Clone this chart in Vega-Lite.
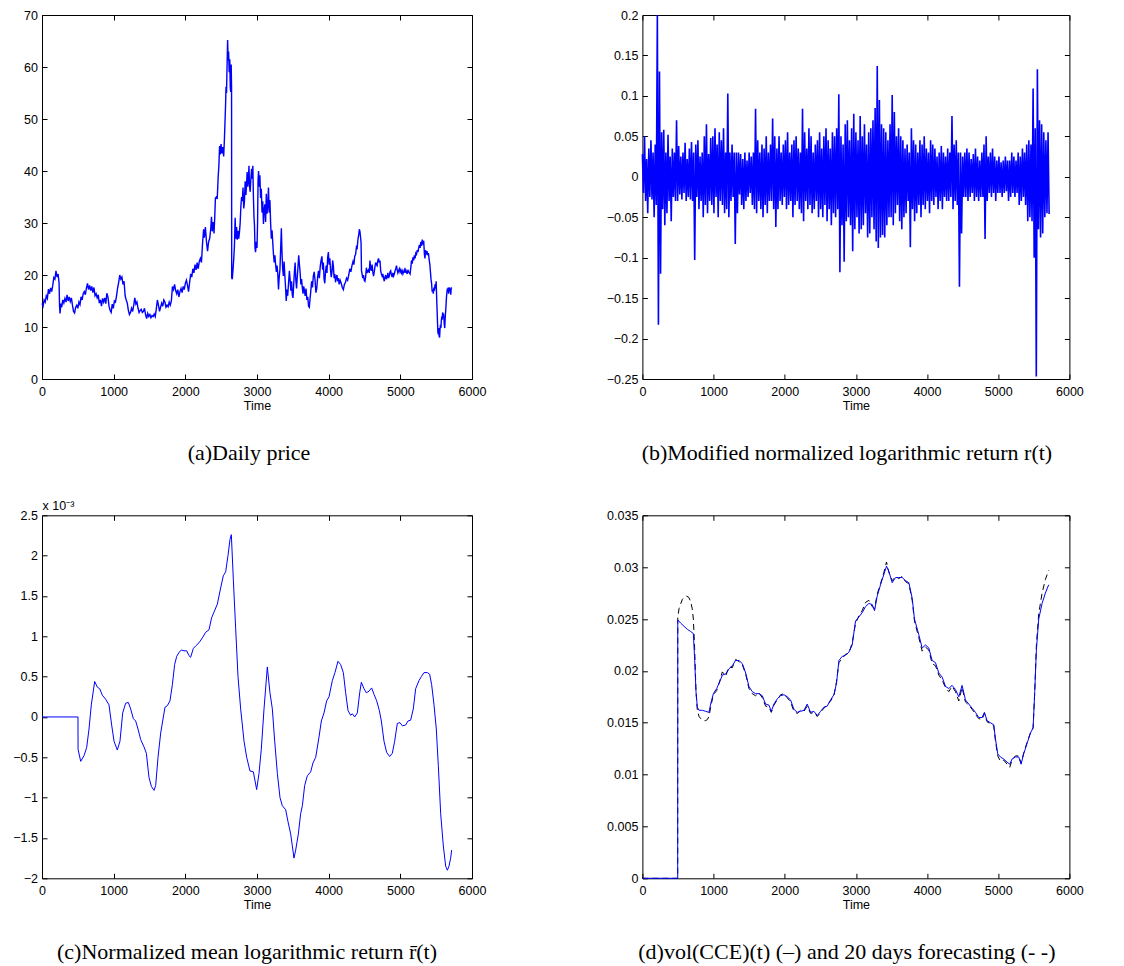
{
"$schema": "https://vega.github.io/schema/vega-lite/v6.json",
"background": "white",
"padding": {"left": 12, "top": 8, "right": 5, "bottom": 5},
"columns": 2,
"bounds": "flush",
"spacing": {"row": 136.3, "column": 170.4},
"config": {
  "view": {"stroke": "black", "strokeWidth": 1},
  "axis": {"grid": false, "domain": false, "tickSize": -5, "tickColor": "black", "labelFont": "Liberation Sans", "labelFontSize": 12.5, "labelColor": "black", "titleFont": "Liberation Sans", "titleFontSize": 12.5, "titleFontWeight": "normal", "titleColor": "black", "titlePadding": 2, "labelFlush": false, "labelOverlap": false},
  "axisX": {"labelPadding": 11},
  "axisY": {"labelPadding": 9.5},
  "title": {"font": "Liberation Serif", "fontSize": 22, "fontWeight": "normal", "color": "black", "orient": "bottom", "frame": "group", "offset": 31}
},
"datasets": {
"price": [
{"t":0,"v":14.5},{"t":15,"v":14.0},{"t":30,"v":15.2},{"t":45,"v":14.8},{"t":60,"v":16.0},{"t":75,"v":15.5},{"t":90,"v":17.3},{"t":105,"v":16.4},{"t":120,"v":17.5},{"t":135,"v":16.8},{"t":150,"v":18.0},{"t":165,"v":19.5},{"t":180,"v":19.2},{"t":195,"v":20.8},{"t":210,"v":19.6},{"t":225,"v":20.2},{"t":238,"v":18.5},{"t":245,"v":14.0},{"t":252,"v":12.6},{"t":262,"v":14.5},{"t":275,"v":13.8},{"t":290,"v":15.2},{"t":305,"v":14.6},{"t":320,"v":15.5},{"t":335,"v":14.8},{"t":350,"v":16.2},{"t":365,"v":15.0},{"t":380,"v":15.8},{"t":395,"v":14.9},{"t":410,"v":15.6},{"t":425,"v":14.2},{"t":440,"v":13.0},{"t":455,"v":12.7},{"t":470,"v":13.8},{"t":485,"v":14.2},{"t":500,"v":13.6},{"t":515,"v":14.8},{"t":530,"v":14.3},{"t":545,"v":15.8},{"t":560,"v":15.2},{"t":575,"v":16.4},{"t":590,"v":16.8},{"t":605,"v":16.2},{"t":620,"v":17.5},{"t":635,"v":18.4},{"t":650,"v":17.2},{"t":665,"v":18.0},{"t":680,"v":17.0},{"t":695,"v":17.8},{"t":710,"v":16.6},{"t":725,"v":17.6},{"t":740,"v":16.0},{"t":755,"v":16.4},{"t":770,"v":15.6},{"t":785,"v":16.2},{"t":800,"v":14.6},{"t":815,"v":15.2},{"t":830,"v":14.0},{"t":845,"v":15.5},{"t":860,"v":14.8},{"t":875,"v":15.6},{"t":890,"v":14.5},{"t":905,"v":16.5},{"t":920,"v":15.8},{"t":935,"v":14.0},{"t":950,"v":13.2},{"t":965,"v":12.8},{"t":980,"v":14.4},{"t":995,"v":13.6},{"t":1010,"v":15.0},{"t":1025,"v":14.8},{"t":1040,"v":16.0},{"t":1055,"v":17.5},{"t":1070,"v":18.6},{"t":1085,"v":20.0},{"t":1100,"v":19.2},{"t":1115,"v":19.6},{"t":1130,"v":18.2},{"t":1145,"v":18.8},{"t":1160,"v":16.0},{"t":1175,"v":15.2},{"t":1190,"v":14.6},{"t":1205,"v":13.2},{"t":1220,"v":12.4},{"t":1235,"v":12.8},{"t":1250,"v":13.6},{"t":1265,"v":13.0},{"t":1280,"v":14.2},{"t":1295,"v":15.6},{"t":1310,"v":14.4},{"t":1325,"v":14.8},{"t":1340,"v":13.6},{"t":1355,"v":12.8},{"t":1370,"v":13.2},{"t":1385,"v":13.4},{"t":1400,"v":12.8},{"t":1415,"v":13.0},{"t":1430,"v":13.6},{"t":1445,"v":12.4},{"t":1460,"v":11.6},{"t":1475,"v":12.6},{"t":1490,"v":12.0},{"t":1505,"v":12.4},{"t":1520,"v":11.8},{"t":1535,"v":12.2},{"t":1550,"v":12.0},{"t":1565,"v":12.5},{"t":1580,"v":12.0},{"t":1595,"v":13.5},{"t":1610,"v":15.2},{"t":1625,"v":14.2},{"t":1640,"v":13.0},{"t":1655,"v":13.8},{"t":1670,"v":14.6},{"t":1685,"v":14.0},{"t":1700,"v":15.2},{"t":1715,"v":14.8},{"t":1730,"v":13.8},{"t":1745,"v":14.2},{"t":1760,"v":13.9},{"t":1775,"v":14.8},{"t":1790,"v":14.2},{"t":1805,"v":15.0},{"t":1820,"v":17.8},{"t":1835,"v":17.2},{"t":1850,"v":18.2},{"t":1865,"v":17.0},{"t":1880,"v":16.4},{"t":1895,"v":17.2},{"t":1910,"v":15.8},{"t":1925,"v":16.8},{"t":1940,"v":17.4},{"t":1955,"v":16.6},{"t":1970,"v":17.8},{"t":1985,"v":17.2},{"t":2000,"v":18.4},{"t":2015,"v":19.0},{"t":2030,"v":18.0},{"t":2045,"v":16.8},{"t":2060,"v":18.6},{"t":2075,"v":20.2},{"t":2090,"v":19.6},{"t":2105,"v":21.2},{"t":2120,"v":20.4},{"t":2135,"v":22.0},{"t":2150,"v":21.0},{"t":2165,"v":22.4},{"t":2180,"v":21.2},{"t":2195,"v":22.6},{"t":2210,"v":23.2},{"t":2225,"v":22.4},{"t":2240,"v":26.0},{"t":2255,"v":28.8},{"t":2265,"v":27.2},{"t":2280,"v":29.2},{"t":2295,"v":26.4},{"t":2310,"v":24.6},{"t":2325,"v":26.4},{"t":2340,"v":27.0},{"t":2355,"v":29.0},{"t":2365,"v":31.2},{"t":2375,"v":28.4},{"t":2390,"v":30.2},{"t":2400,"v":28.0},{"t":2410,"v":31.0},{"t":2420,"v":34.8},{"t":2432,"v":35.0},{"t":2445,"v":34.6},{"t":2458,"v":38.8},{"t":2468,"v":41.0},{"t":2478,"v":44.8},{"t":2488,"v":43.2},{"t":2498,"v":45.2},{"t":2510,"v":43.4},{"t":2522,"v":44.6},{"t":2535,"v":42.8},{"t":2545,"v":46.0},{"t":2552,"v":48.8},{"t":2560,"v":52.0},{"t":2568,"v":56.2},{"t":2575,"v":55.0},{"t":2582,"v":60.0},{"t":2590,"v":65.2},{"t":2597,"v":61.2},{"t":2604,"v":63.0},{"t":2612,"v":59.0},{"t":2620,"v":61.5},{"t":2627,"v":56.0},{"t":2634,"v":55.2},{"t":2640,"v":60.5},{"t":2645,"v":56.0},{"t":2647,"v":19.5},{"t":2655,"v":19.2},{"t":2665,"v":21.0},{"t":2675,"v":23.0},{"t":2685,"v":25.5},{"t":2695,"v":31.0},{"t":2705,"v":27.0},{"t":2715,"v":29.2},{"t":2725,"v":26.8},{"t":2735,"v":28.5},{"t":2745,"v":27.0},{"t":2755,"v":28.2},{"t":2765,"v":30.0},{"t":2775,"v":33.2},{"t":2785,"v":35.0},{"t":2795,"v":34.2},{"t":2805,"v":36.8},{"t":2815,"v":32.8},{"t":2825,"v":34.2},{"t":2835,"v":38.0},{"t":2845,"v":35.4},{"t":2855,"v":37.6},{"t":2862,"v":39.8},{"t":2870,"v":37.0},{"t":2880,"v":38.4},{"t":2888,"v":41.0},{"t":2895,"v":37.2},{"t":2905,"v":36.0},{"t":2915,"v":38.6},{"t":2925,"v":40.4},{"t":2935,"v":38.5},{"t":2942,"v":41.0},{"t":2950,"v":35.0},{"t":2958,"v":31.2},{"t":2965,"v":29.5},{"t":2972,"v":25.2},{"t":2980,"v":24.4},{"t":2990,"v":26.4},{"t":3000,"v":25.2},{"t":3008,"v":30.0},{"t":3015,"v":38.4},{"t":3022,"v":40.0},{"t":3030,"v":37.0},{"t":3040,"v":39.2},{"t":3050,"v":34.8},{"t":3060,"v":36.6},{"t":3070,"v":32.0},{"t":3080,"v":34.2},{"t":3090,"v":29.8},{"t":3100,"v":32.6},{"t":3110,"v":33.6},{"t":3120,"v":30.2},{"t":3130,"v":35.6},{"t":3140,"v":31.8},{"t":3150,"v":33.2},{"t":3160,"v":36.8},{"t":3170,"v":32.0},{"t":3180,"v":34.4},{"t":3190,"v":30.0},{"t":3200,"v":27.0},{"t":3210,"v":28.6},{"t":3220,"v":26.2},{"t":3230,"v":24.0},{"t":3240,"v":22.4},{"t":3250,"v":23.8},{"t":3260,"v":22.0},{"t":3270,"v":20.6},{"t":3280,"v":21.8},{"t":3290,"v":20.2},{"t":3300,"v":17.2},{"t":3310,"v":19.6},{"t":3320,"v":21.0},{"t":3330,"v":25.0},{"t":3340,"v":29.0},{"t":3348,"v":24.6},{"t":3358,"v":21.2},{"t":3368,"v":19.8},{"t":3378,"v":22.6},{"t":3388,"v":20.0},{"t":3398,"v":17.8},{"t":3408,"v":15.0},{"t":3418,"v":17.2},{"t":3428,"v":16.0},{"t":3440,"v":18.4},{"t":3452,"v":20.8},{"t":3462,"v":19.2},{"t":3472,"v":17.0},{"t":3482,"v":18.8},{"t":3492,"v":16.2},{"t":3502,"v":15.6},{"t":3512,"v":18.2},{"t":3522,"v":20.6},{"t":3532,"v":22.4},{"t":3542,"v":19.0},{"t":3552,"v":17.4},{"t":3562,"v":19.6},{"t":3572,"v":21.6},{"t":3582,"v":23.8},{"t":3592,"v":22.0},{"t":3602,"v":20.4},{"t":3612,"v":18.2},{"t":3622,"v":19.2},{"t":3632,"v":17.6},{"t":3642,"v":16.4},{"t":3652,"v":17.8},{"t":3662,"v":17.0},{"t":3672,"v":16.0},{"t":3684,"v":17.4},{"t":3696,"v":15.2},{"t":3708,"v":15.8},{"t":3720,"v":14.0},{"t":3730,"v":13.8},{"t":3740,"v":15.4},{"t":3750,"v":16.8},{"t":3762,"v":18.8},{"t":3774,"v":17.6},{"t":3786,"v":19.8},{"t":3798,"v":20.6},{"t":3810,"v":19.0},{"t":3822,"v":16.6},{"t":3834,"v":17.4},{"t":3846,"v":19.6},{"t":3858,"v":20.8},{"t":3870,"v":19.4},{"t":3882,"v":21.6},{"t":3894,"v":22.8},{"t":3906,"v":23.6},{"t":3916,"v":21.0},{"t":3926,"v":22.4},{"t":3936,"v":19.2},{"t":3946,"v":18.4},{"t":3956,"v":20.6},{"t":3966,"v":21.8},{"t":3976,"v":20.4},{"t":3986,"v":23.4},{"t":3996,"v":24.4},{"t":4006,"v":22.0},{"t":4016,"v":23.2},{"t":4026,"v":21.0},{"t":4036,"v":19.6},{"t":4046,"v":20.6},{"t":4056,"v":22.8},{"t":4066,"v":21.6},{"t":4076,"v":19.4},{"t":4086,"v":20.2},{"t":4096,"v":18.6},{"t":4106,"v":19.6},{"t":4116,"v":20.0},{"t":4126,"v":18.8},{"t":4136,"v":19.4},{"t":4146,"v":18.2},{"t":4160,"v":19.0},{"t":4175,"v":18.4},{"t":4190,"v":17.6},{"t":4205,"v":17.2},{"t":4220,"v":18.2},{"t":4235,"v":18.6},{"t":4250,"v":19.4},{"t":4265,"v":19.0},{"t":4280,"v":20.0},{"t":4295,"v":21.2},{"t":4310,"v":20.6},{"t":4325,"v":21.8},{"t":4340,"v":22.6},{"t":4352,"v":22.0},{"t":4364,"v":23.6},{"t":4376,"v":24.0},{"t":4388,"v":25.4},{"t":4398,"v":25.2},{"t":4408,"v":26.8},{"t":4418,"v":27.6},{"t":4428,"v":28.8},{"t":4436,"v":28.4},{"t":4444,"v":27.4},{"t":4452,"v":26.2},{"t":4458,"v":20.8},{"t":4466,"v":20.2},{"t":4476,"v":19.4},{"t":4486,"v":20.0},{"t":4496,"v":19.0},{"t":4506,"v":18.8},{"t":4516,"v":19.6},{"t":4526,"v":21.4},{"t":4536,"v":20.4},{"t":4546,"v":20.8},{"t":4556,"v":21.0},{"t":4566,"v":20.4},{"t":4576,"v":22.8},{"t":4586,"v":21.2},{"t":4596,"v":20.8},{"t":4606,"v":22.0},{"t":4616,"v":20.6},{"t":4626,"v":19.8},{"t":4636,"v":20.6},{"t":4646,"v":21.6},{"t":4656,"v":22.4},{"t":4666,"v":22.0},{"t":4676,"v":21.8},{"t":4686,"v":22.8},{"t":4696,"v":23.2},{"t":4706,"v":22.4},{"t":4716,"v":22.8},{"t":4726,"v":20.8},{"t":4736,"v":20.2},{"t":4746,"v":19.8},{"t":4756,"v":20.2},{"t":4766,"v":19.4},{"t":4776,"v":18.8},{"t":4786,"v":19.6},{"t":4796,"v":20.0},{"t":4806,"v":19.2},{"t":4816,"v":19.6},{"t":4826,"v":20.4},{"t":4836,"v":19.4},{"t":4846,"v":19.8},{"t":4856,"v":20.6},{"t":4866,"v":20.8},{"t":4876,"v":20.0},{"t":4886,"v":19.6},{"t":4896,"v":20.4},{"t":4906,"v":19.8},{"t":4916,"v":20.2},{"t":4926,"v":20.8},{"t":4936,"v":21.2},{"t":4946,"v":21.8},{"t":4956,"v":21.0},{"t":4966,"v":20.4},{"t":4976,"v":20.8},{"t":4986,"v":21.2},{"t":4996,"v":20.6},{"t":5006,"v":21.0},{"t":5016,"v":20.4},{"t":5026,"v":20.8},{"t":5036,"v":20.2},{"t":5046,"v":20.6},{"t":5056,"v":21.0},{"t":5066,"v":20.4},{"t":5076,"v":21.0},{"t":5086,"v":20.6},{"t":5096,"v":20.2},{"t":5106,"v":21.0},{"t":5116,"v":20.6},{"t":5126,"v":20.4},{"t":5136,"v":20.2},{"t":5146,"v":21.4},{"t":5156,"v":22.8},{"t":5166,"v":22.2},{"t":5176,"v":23.4},{"t":5186,"v":22.8},{"t":5196,"v":23.8},{"t":5206,"v":23.2},{"t":5216,"v":24.2},{"t":5226,"v":24.0},{"t":5236,"v":24.8},{"t":5246,"v":24.4},{"t":5256,"v":25.2},{"t":5266,"v":25.8},{"t":5276,"v":25.2},{"t":5286,"v":26.4},{"t":5296,"v":25.6},{"t":5306,"v":26.8},{"t":5316,"v":26.2},{"t":5326,"v":26.6},{"t":5336,"v":24.0},{"t":5344,"v":23.2},{"t":5352,"v":24.8},{"t":5362,"v":24.2},{"t":5372,"v":24.6},{"t":5382,"v":23.8},{"t":5392,"v":24.2},{"t":5402,"v":23.0},{"t":5412,"v":22.0},{"t":5420,"v":20.6},{"t":5428,"v":19.2},{"t":5436,"v":18.4},{"t":5444,"v":16.8},{"t":5452,"v":17.2},{"t":5460,"v":16.4},{"t":5468,"v":17.6},{"t":5476,"v":17.0},{"t":5484,"v":18.2},{"t":5492,"v":17.4},{"t":5500,"v":18.8},{"t":5506,"v":16.0},{"t":5512,"v":13.6},{"t":5518,"v":11.2},{"t":5524,"v":9.0},{"t":5530,"v":8.6},{"t":5536,"v":9.8},{"t":5542,"v":8.2},{"t":5548,"v":8.0},{"t":5554,"v":9.6},{"t":5560,"v":10.4},{"t":5566,"v":9.8},{"t":5572,"v":11.2},{"t":5578,"v":12.0},{"t":5584,"v":11.4},{"t":5590,"v":12.8},{"t":5596,"v":12.2},{"t":5602,"v":12.6},{"t":5608,"v":11.6},{"t":5614,"v":10.4},{"t":5620,"v":9.8},{"t":5626,"v":11.8},{"t":5632,"v":13.0},{"t":5638,"v":14.2},{"t":5644,"v":15.8},{"t":5650,"v":16.6},{"t":5656,"v":17.4},{"t":5662,"v":16.8},{"t":5668,"v":17.6},{"t":5674,"v":16.4},{"t":5680,"v":17.2},{"t":5686,"v":17.6},{"t":5692,"v":16.8},{"t":5698,"v":17.4},{"t":5704,"v":16.2},{"t":5710,"v":17.6},{"t":5716,"v":17.4}
],
"ret": [
{"t":0,"v":0.028},{"t":15,"v":-0.02},{"t":30,"v":0.05},{"t":45,"v":-0.03},{"t":60,"v":0.022},{"t":75,"v":-0.045},{"t":90,"v":0.035},{"t":105,"v":-0.025},{"t":120,"v":0.045},{"t":135,"v":-0.028},{"t":150,"v":0.03},{"t":165,"v":-0.05},{"t":180,"v":0.04},{"t":195,"v":-0.035},{"t":210,"v":0.2},{"t":225,"v":-0.183},{"t":240,"v":0.13},{"t":255,"v":-0.12},{"t":270,"v":0.055},{"t":285,"v":-0.04},{"t":300,"v":0.058},{"t":315,"v":-0.06},{"t":330,"v":0.03},{"t":345,"v":-0.045},{"t":360,"v":0.052},{"t":375,"v":-0.03},{"t":390,"v":0.025},{"t":405,"v":-0.055},{"t":420,"v":0.035},{"t":435,"v":-0.025},{"t":450,"v":0.03},{"t":465,"v":-0.03},{"t":480,"v":0.07},{"t":495,"v":-0.03},{"t":510,"v":0.038},{"t":525,"v":-0.022},{"t":540,"v":0.025},{"t":555,"v":-0.028},{"t":570,"v":0.03},{"t":585,"v":-0.02},{"t":600,"v":0.042},{"t":615,"v":-0.03},{"t":630,"v":0.022},{"t":645,"v":-0.025},{"t":660,"v":0.035},{"t":675,"v":-0.028},{"t":690,"v":0.043},{"t":705,"v":-0.03},{"t":720,"v":0.03},{"t":735,"v":-0.103},{"t":750,"v":0.04},{"t":765,"v":-0.025},{"t":780,"v":0.045},{"t":795,"v":-0.04},{"t":810,"v":0.025},{"t":825,"v":-0.03},{"t":840,"v":0.03},{"t":855,"v":-0.05},{"t":870,"v":0.05},{"t":885,"v":-0.035},{"t":900,"v":0.065},{"t":915,"v":-0.045},{"t":930,"v":0.028},{"t":945,"v":-0.03},{"t":960,"v":0.048},{"t":975,"v":-0.035},{"t":990,"v":0.05},{"t":1005,"v":-0.045},{"t":1020,"v":0.06},{"t":1035,"v":-0.025},{"t":1050,"v":0.04},{"t":1065,"v":-0.05},{"t":1080,"v":0.055},{"t":1095,"v":-0.03},{"t":1110,"v":0.045},{"t":1125,"v":-0.035},{"t":1140,"v":0.06},{"t":1155,"v":-0.045},{"t":1170,"v":0.03},{"t":1185,"v":-0.04},{"t":1200,"v":0.103},{"t":1215,"v":-0.05},{"t":1230,"v":0.03},{"t":1245,"v":-0.03},{"t":1260,"v":0.04},{"t":1275,"v":-0.025},{"t":1290,"v":0.03},{"t":1305,"v":-0.083},{"t":1320,"v":0.03},{"t":1335,"v":-0.045},{"t":1350,"v":0.03},{"t":1365,"v":-0.022},{"t":1380,"v":0.028},{"t":1395,"v":-0.035},{"t":1410,"v":0.022},{"t":1425,"v":-0.04},{"t":1440,"v":0.03},{"t":1455,"v":-0.03},{"t":1470,"v":0.02},{"t":1485,"v":-0.025},{"t":1500,"v":0.03},{"t":1515,"v":-0.02},{"t":1530,"v":0.025},{"t":1545,"v":-0.035},{"t":1560,"v":0.03},{"t":1575,"v":-0.04},{"t":1590,"v":0.084},{"t":1605,"v":-0.045},{"t":1620,"v":0.045},{"t":1635,"v":-0.03},{"t":1650,"v":0.03},{"t":1665,"v":-0.04},{"t":1680,"v":0.04},{"t":1695,"v":-0.05},{"t":1710,"v":0.035},{"t":1725,"v":-0.035},{"t":1740,"v":0.05},{"t":1755,"v":-0.045},{"t":1770,"v":0.03},{"t":1785,"v":-0.03},{"t":1800,"v":0.04},{"t":1815,"v":-0.03},{"t":1830,"v":0.072},{"t":1845,"v":-0.04},{"t":1860,"v":0.05},{"t":1875,"v":-0.062},{"t":1890,"v":0.035},{"t":1905,"v":-0.04},{"t":1920,"v":0.05},{"t":1935,"v":-0.03},{"t":1950,"v":0.03},{"t":1965,"v":-0.035},{"t":1980,"v":0.04},{"t":1995,"v":-0.025},{"t":2010,"v":0.045},{"t":2025,"v":-0.04},{"t":2040,"v":0.055},{"t":2055,"v":-0.035},{"t":2070,"v":0.03},{"t":2085,"v":-0.03},{"t":2100,"v":0.04},{"t":2115,"v":-0.05},{"t":2130,"v":0.045},{"t":2145,"v":-0.035},{"t":2160,"v":0.05},{"t":2175,"v":-0.03},{"t":2190,"v":0.035},{"t":2205,"v":-0.04},{"t":2220,"v":0.03},{"t":2235,"v":-0.045},{"t":2250,"v":0.084},{"t":2265,"v":-0.055},{"t":2280,"v":0.055},{"t":2295,"v":-0.03},{"t":2310,"v":0.035},{"t":2325,"v":-0.04},{"t":2340,"v":0.06},{"t":2355,"v":-0.035},{"t":2370,"v":0.05},{"t":2385,"v":-0.045},{"t":2400,"v":0.03},{"t":2415,"v":-0.04},{"t":2430,"v":0.04},{"t":2445,"v":-0.03},{"t":2460,"v":0.045},{"t":2475,"v":-0.05},{"t":2490,"v":0.055},{"t":2505,"v":-0.04},{"t":2520,"v":0.035},{"t":2535,"v":-0.05},{"t":2550,"v":0.05},{"t":2565,"v":-0.035},{"t":2580,"v":0.06},{"t":2595,"v":-0.055},{"t":2610,"v":0.045},{"t":2625,"v":-0.04},{"t":2640,"v":0.035},{"t":2655,"v":-0.06},{"t":2670,"v":0.055},{"t":2685,"v":-0.045},{"t":2700,"v":0.05},{"t":2715,"v":-0.05},{"t":2730,"v":0.06},{"t":2745,"v":-0.04},{"t":2760,"v":0.102},{"t":2775,"v":-0.118},{"t":2790,"v":0.05},{"t":2805,"v":-0.06},{"t":2820,"v":0.04},{"t":2835,"v":-0.105},{"t":2850,"v":0.065},{"t":2865,"v":-0.055},{"t":2880,"v":0.07},{"t":2895,"v":-0.05},{"t":2910,"v":0.045},{"t":2925,"v":-0.06},{"t":2940,"v":0.06},{"t":2955,"v":-0.092},{"t":2970,"v":0.078},{"t":2985,"v":-0.065},{"t":3000,"v":0.055},{"t":3015,"v":-0.05},{"t":3030,"v":0.045},{"t":3045,"v":-0.07},{"t":3060,"v":0.075},{"t":3075,"v":-0.065},{"t":3090,"v":0.05},{"t":3105,"v":-0.06},{"t":3120,"v":0.065},{"t":3135,"v":-0.045},{"t":3150,"v":0.04},{"t":3165,"v":-0.075},{"t":3180,"v":0.055},{"t":3195,"v":-0.07},{"t":3210,"v":0.06},{"t":3225,"v":-0.05},{"t":3240,"v":0.07},{"t":3255,"v":-0.065},{"t":3270,"v":0.085},{"t":3285,"v":-0.08},{"t":3300,"v":0.137},{"t":3315,"v":-0.088},{"t":3330,"v":0.095},{"t":3345,"v":-0.075},{"t":3360,"v":0.065},{"t":3375,"v":-0.072},{"t":3390,"v":0.06},{"t":3405,"v":-0.075},{"t":3420,"v":0.055},{"t":3435,"v":-0.06},{"t":3450,"v":0.045},{"t":3465,"v":-0.05},{"t":3480,"v":0.065},{"t":3495,"v":-0.05},{"t":3510,"v":0.101},{"t":3525,"v":-0.06},{"t":3540,"v":0.08},{"t":3555,"v":-0.045},{"t":3570,"v":0.05},{"t":3585,"v":-0.035},{"t":3600,"v":0.06},{"t":3615,"v":-0.055},{"t":3630,"v":0.05},{"t":3645,"v":-0.065},{"t":3660,"v":0.045},{"t":3675,"v":-0.05},{"t":3690,"v":0.035},{"t":3705,"v":-0.045},{"t":3720,"v":0.04},{"t":3735,"v":-0.03},{"t":3750,"v":0.03},{"t":3765,"v":-0.087},{"t":3780,"v":0.06},{"t":3795,"v":-0.04},{"t":3810,"v":0.045},{"t":3825,"v":-0.055},{"t":3840,"v":0.04},{"t":3855,"v":-0.045},{"t":3870,"v":0.03},{"t":3885,"v":-0.035},{"t":3900,"v":0.045},{"t":3915,"v":-0.05},{"t":3930,"v":0.04},{"t":3945,"v":-0.035},{"t":3960,"v":0.05},{"t":3975,"v":-0.04},{"t":3990,"v":0.035},{"t":4005,"v":-0.03},{"t":4020,"v":0.03},{"t":4035,"v":-0.045},{"t":4050,"v":0.045},{"t":4065,"v":-0.03},{"t":4080,"v":0.04},{"t":4095,"v":-0.035},{"t":4110,"v":0.035},{"t":4125,"v":-0.025},{"t":4140,"v":0.025},{"t":4155,"v":-0.04},{"t":4170,"v":0.03},{"t":4185,"v":-0.03},{"t":4200,"v":0.038},{"t":4215,"v":-0.04},{"t":4230,"v":0.03},{"t":4245,"v":-0.025},{"t":4260,"v":0.025},{"t":4275,"v":-0.03},{"t":4290,"v":0.035},{"t":4305,"v":-0.03},{"t":4320,"v":0.03},{"t":4335,"v":-0.025},{"t":4350,"v":0.075},{"t":4365,"v":-0.04},{"t":4380,"v":0.04},{"t":4395,"v":-0.03},{"t":4410,"v":0.045},{"t":4425,"v":-0.035},{"t":4440,"v":0.03},{"t":4455,"v":-0.136},{"t":4470,"v":0.03},{"t":4485,"v":-0.07},{"t":4500,"v":0.025},{"t":4515,"v":-0.025},{"t":4530,"v":0.03},{"t":4545,"v":-0.025},{"t":4560,"v":0.035},{"t":4575,"v":-0.03},{"t":4590,"v":0.03},{"t":4605,"v":-0.025},{"t":4620,"v":0.022},{"t":4635,"v":-0.02},{"t":4650,"v":0.028},{"t":4665,"v":-0.03},{"t":4680,"v":0.035},{"t":4695,"v":-0.025},{"t":4710,"v":0.025},{"t":4725,"v":-0.03},{"t":4740,"v":0.02},{"t":4755,"v":-0.025},{"t":4770,"v":0.03},{"t":4785,"v":-0.025},{"t":4800,"v":0.04},{"t":4815,"v":-0.077},{"t":4830,"v":0.05},{"t":4845,"v":-0.03},{"t":4860,"v":0.025},{"t":4875,"v":-0.02},{"t":4890,"v":0.03},{"t":4905,"v":-0.025},{"t":4920,"v":0.035},{"t":4935,"v":-0.02},{"t":4950,"v":0.025},{"t":4965,"v":-0.03},{"t":4980,"v":0.02},{"t":4995,"v":-0.02},{"t":5010,"v":0.025},{"t":5025,"v":-0.02},{"t":5040,"v":0.018},{"t":5055,"v":-0.025},{"t":5070,"v":0.02},{"t":5085,"v":-0.02},{"t":5100,"v":0.025},{"t":5115,"v":-0.018},{"t":5130,"v":0.02},{"t":5145,"v":-0.03},{"t":5160,"v":0.02},{"t":5175,"v":-0.025},{"t":5190,"v":0.03},{"t":5205,"v":-0.02},{"t":5220,"v":0.025},{"t":5235,"v":-0.025},{"t":5250,"v":0.02},{"t":5265,"v":-0.02},{"t":5280,"v":0.03},{"t":5295,"v":-0.035},{"t":5310,"v":0.025},{"t":5325,"v":-0.03},{"t":5340,"v":0.035},{"t":5355,"v":-0.025},{"t":5370,"v":0.03},{"t":5385,"v":-0.035},{"t":5400,"v":0.04},{"t":5415,"v":-0.055},{"t":5430,"v":0.045},{"t":5445,"v":-0.05},{"t":5460,"v":0.04},{"t":5475,"v":-0.055},{"t":5490,"v":0.109},{"t":5505,"v":-0.1},{"t":5520,"v":0.06},{"t":5535,"v":-0.247},{"t":5550,"v":0.133},{"t":5565,"v":-0.065},{"t":5580,"v":0.07},{"t":5595,"v":-0.075},{"t":5610,"v":0.065},{"t":5625,"v":-0.07},{"t":5640,"v":0.055},{"t":5655,"v":-0.05},{"t":5670,"v":0.045},{"t":5685,"v":-0.045},{"t":5700,"v":0.055},{"t":5715,"v":-0.046}
],
"mean": [
{"t":0,"v":0},{"t":502,"v":0},{"t":503,"v":-0.4},{"t":540,"v":-0.55},{"t":586,"v":-0.48},{"t":623,"v":-0.38},{"t":656,"v":-0.15},{"t":688,"v":0.15},{"t":735,"v":0.44},{"t":772,"v":0.37},{"t":805,"v":0.35},{"t":842,"v":0.27},{"t":888,"v":0.22},{"t":935,"v":0.15},{"t":972,"v":-0.1},{"t":1005,"v":-0.3},{"t":1051,"v":-0.41},{"t":1088,"v":-0.3},{"t":1126,"v":0.05},{"t":1167,"v":0.17},{"t":1205,"v":0.18},{"t":1237,"v":0.1},{"t":1274,"v":-0.02},{"t":1307,"v":-0.05},{"t":1340,"v":-0.15},{"t":1377,"v":-0.28},{"t":1423,"v":-0.37},{"t":1456,"v":-0.45},{"t":1493,"v":-0.75},{"t":1526,"v":-0.86},{"t":1563,"v":-0.91},{"t":1586,"v":-0.85},{"t":1619,"v":-0.5},{"t":1656,"v":-0.2},{"t":1684,"v":-0.05},{"t":1716,"v":0.12},{"t":1749,"v":0.14},{"t":1786,"v":0.2},{"t":1819,"v":0.4},{"t":1851,"v":0.65},{"t":1879,"v":0.75},{"t":1912,"v":0.8},{"t":1944,"v":0.83},{"t":1981,"v":0.82},{"t":2019,"v":0.82},{"t":2051,"v":0.76},{"t":2074,"v":0.74},{"t":2112,"v":0.85},{"t":2144,"v":0.88},{"t":2191,"v":0.92},{"t":2237,"v":0.98},{"t":2284,"v":1.05},{"t":2330,"v":1.08},{"t":2367,"v":1.23},{"t":2400,"v":1.3},{"t":2447,"v":1.4},{"t":2493,"v":1.6},{"t":2530,"v":1.75},{"t":2563,"v":1.8},{"t":2595,"v":2.0},{"t":2623,"v":2.2},{"t":2642,"v":2.26},{"t":2670,"v":1.7},{"t":2702,"v":1.1},{"t":2735,"v":0.5},{"t":2772,"v":0.1},{"t":2819,"v":-0.3},{"t":2856,"v":-0.5},{"t":2902,"v":-0.67},{"t":2949,"v":-0.68},{"t":2995,"v":-0.9},{"t":3028,"v":-0.7},{"t":3060,"v":-0.4},{"t":3098,"v":0.1},{"t":3144,"v":0.62},{"t":3181,"v":0.3},{"t":3214,"v":0.1},{"t":3247,"v":-0.3},{"t":3284,"v":-0.7},{"t":3321,"v":-1.0},{"t":3353,"v":-1.1},{"t":3400,"v":-1.15},{"t":3433,"v":-1.3},{"t":3470,"v":-1.45},{"t":3493,"v":-1.6},{"t":3516,"v":-1.75},{"t":3540,"v":-1.65},{"t":3577,"v":-1.45},{"t":3609,"v":-1.2},{"t":3633,"v":-1.1},{"t":3665,"v":-0.85},{"t":3702,"v":-0.73},{"t":3749,"v":-0.68},{"t":3781,"v":-0.57},{"t":3819,"v":-0.5},{"t":3865,"v":-0.25},{"t":3898,"v":-0.05},{"t":3935,"v":0.05},{"t":3972,"v":0.2},{"t":4005,"v":0.25},{"t":4051,"v":0.45},{"t":4088,"v":0.55},{"t":4130,"v":0.69},{"t":4167,"v":0.65},{"t":4205,"v":0.55},{"t":4237,"v":0.3},{"t":4270,"v":0.08},{"t":4307,"v":0.02},{"t":4330,"v":0.04},{"t":4363,"v":0.0},{"t":4400,"v":0.05},{"t":4433,"v":0.3},{"t":4456,"v":0.43},{"t":4493,"v":0.35},{"t":4526,"v":0.3},{"t":4563,"v":0.32},{"t":4600,"v":0.36},{"t":4633,"v":0.28},{"t":4670,"v":0.2},{"t":4707,"v":0.08},{"t":4735,"v":-0.05},{"t":4772,"v":-0.3},{"t":4809,"v":-0.44},{"t":4851,"v":-0.49},{"t":4888,"v":-0.45},{"t":4921,"v":-0.3},{"t":4958,"v":-0.08},{"t":4995,"v":-0.07},{"t":5028,"v":-0.11},{"t":5074,"v":-0.1},{"t":5107,"v":-0.05},{"t":5144,"v":-0.04},{"t":5181,"v":0.1},{"t":5214,"v":0.35},{"t":5260,"v":0.45},{"t":5293,"v":0.5},{"t":5330,"v":0.55},{"t":5377,"v":0.55},{"t":5409,"v":0.53},{"t":5437,"v":0.4},{"t":5470,"v":0.15},{"t":5502,"v":-0.15},{"t":5530,"v":-0.6},{"t":5563,"v":-1.2},{"t":5600,"v":-1.6},{"t":5633,"v":-1.85},{"t":5656,"v":-1.9},{"t":5679,"v":-1.85},{"t":5702,"v":-1.75},{"t":5716,"v":-1.65}
],
"vol": [
{"t":0,"v":0},{"t":496,"v":0},{"t":497,"v":0.0249},{"t":538,"v":0.0246},{"t":585,"v":0.0243},{"t":632,"v":0.024},{"t":678,"v":0.0238},{"t":716,"v":0.0236},{"t":735,"v":0.021},{"t":753,"v":0.018},{"t":772,"v":0.0165},{"t":796,"v":0.0162},{"t":842,"v":0.0162},{"t":889,"v":0.0161},{"t":936,"v":0.016},{"t":959,"v":0.0168},{"t":997,"v":0.0178},{"t":1044,"v":0.0183},{"t":1090,"v":0.019},{"t":1123,"v":0.0196},{"t":1170,"v":0.0197},{"t":1217,"v":0.0202},{"t":1263,"v":0.0205},{"t":1310,"v":0.021},{"t":1357,"v":0.021},{"t":1404,"v":0.0207},{"t":1451,"v":0.0198},{"t":1497,"v":0.0185},{"t":1544,"v":0.018},{"t":1591,"v":0.0178},{"t":1638,"v":0.0178},{"t":1685,"v":0.0176},{"t":1731,"v":0.0168},{"t":1778,"v":0.0167},{"t":1811,"v":0.0161},{"t":1848,"v":0.0168},{"t":1895,"v":0.0173},{"t":1942,"v":0.0176},{"t":1989,"v":0.0177},{"t":2036,"v":0.0175},{"t":2082,"v":0.0172},{"t":2129,"v":0.0163},{"t":2176,"v":0.016},{"t":2223,"v":0.0161},{"t":2270,"v":0.0162},{"t":2316,"v":0.0168},{"t":2363,"v":0.016},{"t":2410,"v":0.0161},{"t":2457,"v":0.0157},{"t":2504,"v":0.0161},{"t":2550,"v":0.0165},{"t":2597,"v":0.0166},{"t":2644,"v":0.0172},{"t":2691,"v":0.0177},{"t":2728,"v":0.0188},{"t":2761,"v":0.021},{"t":2808,"v":0.0214},{"t":2854,"v":0.0215},{"t":2901,"v":0.0218},{"t":2948,"v":0.0225},{"t":2995,"v":0.0248},{"t":3042,"v":0.0252},{"t":3088,"v":0.0256},{"t":3135,"v":0.0262},{"t":3182,"v":0.0265},{"t":3229,"v":0.0264},{"t":3262,"v":0.0258},{"t":3299,"v":0.0272},{"t":3346,"v":0.0283},{"t":3393,"v":0.0293},{"t":3430,"v":0.0301},{"t":3463,"v":0.0296},{"t":3510,"v":0.0285},{"t":3557,"v":0.029},{"t":3603,"v":0.029},{"t":3650,"v":0.029},{"t":3697,"v":0.0287},{"t":3744,"v":0.0285},{"t":3791,"v":0.027},{"t":3823,"v":0.025},{"t":3884,"v":0.0235},{"t":3931,"v":0.0222},{"t":3978,"v":0.0225},{"t":4025,"v":0.0222},{"t":4071,"v":0.021},{"t":4118,"v":0.0208},{"t":4165,"v":0.0198},{"t":4212,"v":0.0194},{"t":4259,"v":0.0185},{"t":4305,"v":0.0183},{"t":4352,"v":0.0186},{"t":4399,"v":0.0182},{"t":4446,"v":0.0175},{"t":4492,"v":0.0186},{"t":4539,"v":0.0172},{"t":4586,"v":0.0168},{"t":4633,"v":0.0164},{"t":4680,"v":0.016},{"t":4726,"v":0.0155},{"t":4773,"v":0.0155},{"t":4806,"v":0.016},{"t":4843,"v":0.0152},{"t":4890,"v":0.015},{"t":4937,"v":0.0148},{"t":4960,"v":0.0135},{"t":4993,"v":0.012},{"t":5030,"v":0.0117},{"t":5077,"v":0.0115},{"t":5124,"v":0.0112},{"t":5162,"v":0.011},{"t":5194,"v":0.0115},{"t":5241,"v":0.0117},{"t":5288,"v":0.0117},{"t":5321,"v":0.011},{"t":5358,"v":0.012},{"t":5405,"v":0.013},{"t":5452,"v":0.014},{"t":5490,"v":0.0145},{"t":5513,"v":0.018},{"t":5536,"v":0.022},{"t":5569,"v":0.025},{"t":5616,"v":0.0265},{"t":5662,"v":0.0275},{"t":5709,"v":0.0283}
],
"fc": [
{"t":0,"v":0},{"t":496,"v":0},{"t":497,"v":0.0252},{"t":515,"v":0.026},{"t":540,"v":0.0265},{"t":562,"v":0.0269},{"t":590,"v":0.0271},{"t":622,"v":0.0272},{"t":650,"v":0.0271},{"t":678,"v":0.0267},{"t":700,"v":0.026},{"t":716,"v":0.025},{"t":735,"v":0.022},{"t":753,"v":0.018},{"t":772,"v":0.0162},{"t":796,"v":0.0156},{"t":819,"v":0.0154},{"t":842,"v":0.0153},{"t":866,"v":0.0152},{"t":889,"v":0.0152},{"t":912,"v":0.0153},{"t":936,"v":0.0156},{"t":959,"v":0.0165},{"t":997,"v":0.0177},{"t":1044,"v":0.0181},{"t":1090,"v":0.0191},{"t":1123,"v":0.0199},{"t":1170,"v":0.0195},{"t":1217,"v":0.0204},{"t":1263,"v":0.0203},{"t":1310,"v":0.0211},{"t":1357,"v":0.0209},{"t":1404,"v":0.0206},{"t":1451,"v":0.0197},{"t":1497,"v":0.0183},{"t":1544,"v":0.0178},{"t":1591,"v":0.0176},{"t":1638,"v":0.0179},{"t":1685,"v":0.0174},{"t":1731,"v":0.0166},{"t":1778,"v":0.0165},{"t":1811,"v":0.016},{"t":1848,"v":0.0167},{"t":1895,"v":0.0172},{"t":1942,"v":0.0177},{"t":1989,"v":0.0178},{"t":2036,"v":0.0174},{"t":2082,"v":0.017},{"t":2129,"v":0.0161},{"t":2176,"v":0.0159},{"t":2223,"v":0.0162},{"t":2270,"v":0.0161},{"t":2316,"v":0.0166},{"t":2363,"v":0.0159},{"t":2410,"v":0.016},{"t":2457,"v":0.0156},{"t":2504,"v":0.016},{"t":2550,"v":0.0164},{"t":2597,"v":0.0167},{"t":2644,"v":0.0171},{"t":2691,"v":0.0176},{"t":2728,"v":0.019},{"t":2761,"v":0.0208},{"t":2808,"v":0.0212},{"t":2854,"v":0.0216},{"t":2901,"v":0.0217},{"t":2948,"v":0.0227},{"t":2995,"v":0.0246},{"t":3042,"v":0.0253},{"t":3088,"v":0.0258},{"t":3135,"v":0.0266},{"t":3182,"v":0.0268},{"t":3229,"v":0.0262},{"t":3262,"v":0.026},{"t":3299,"v":0.0274},{"t":3346,"v":0.0284},{"t":3393,"v":0.0295},{"t":3430,"v":0.0305},{"t":3463,"v":0.0295},{"t":3510,"v":0.0287},{"t":3557,"v":0.0291},{"t":3603,"v":0.0289},{"t":3650,"v":0.0291},{"t":3697,"v":0.0286},{"t":3744,"v":0.0284},{"t":3791,"v":0.0268},{"t":3823,"v":0.0248},{"t":3884,"v":0.0232},{"t":3931,"v":0.0219},{"t":3978,"v":0.0223},{"t":4025,"v":0.022},{"t":4071,"v":0.0207},{"t":4118,"v":0.0205},{"t":4165,"v":0.0196},{"t":4212,"v":0.0191},{"t":4259,"v":0.0184},{"t":4305,"v":0.018},{"t":4352,"v":0.0185},{"t":4399,"v":0.018},{"t":4446,"v":0.0171},{"t":4492,"v":0.0184},{"t":4539,"v":0.017},{"t":4586,"v":0.0167},{"t":4633,"v":0.0163},{"t":4680,"v":0.0158},{"t":4726,"v":0.0154},{"t":4773,"v":0.0153},{"t":4806,"v":0.0159},{"t":4843,"v":0.0151},{"t":4890,"v":0.0149},{"t":4937,"v":0.0147},{"t":4960,"v":0.0133},{"t":4993,"v":0.0118},{"t":5030,"v":0.0113},{"t":5077,"v":0.0114},{"t":5124,"v":0.011},{"t":5162,"v":0.0107},{"t":5194,"v":0.0114},{"t":5241,"v":0.0118},{"t":5288,"v":0.0118},{"t":5321,"v":0.0111},{"t":5358,"v":0.0121},{"t":5405,"v":0.0131},{"t":5452,"v":0.014},{"t":5490,"v":0.0145},{"t":5513,"v":0.018},{"t":5536,"v":0.0225},{"t":5569,"v":0.0255},{"t":5616,"v":0.0275},{"t":5662,"v":0.0288},{"t":5709,"v":0.0297}
]
},
"concat": [
{
  "width": 430, "height": 364,
  "title": {"text": "(a)Daily price", "dx": -8},
  "layer": [
    {"data": {"name": "price"}, "mark": {"type": "line", "color": "#0000ff", "strokeWidth": 1.4},
     "encoding": {
       "x": {"field": "t", "type": "quantitative", "scale": {"domain": [0, 6000], "nice": false}, "axis": {"title": "Time", "format": "d", "values": [0,1000,2000,3000,4000,5000,6000]}},
       "y": {"field": "v", "type": "quantitative", "scale": {"domain": [0, 70], "nice": false}, "axis": {"title": null, "values": [0,10,20,30,40,50,60,70]}}}},
    {"data": {"name": "price"}, "mark": {"type": "line", "opacity": 0},
     "encoding": {
       "x": {"field": "t", "type": "quantitative", "axis": {"orient": "top", "labels": false, "title": null, "values": [0,1000,2000,3000,4000,5000,6000]}},
       "y": {"field": "v", "type": "quantitative", "axis": {"orient": "right", "labels": false, "title": null, "values": [0,10,20,30,40,50,60,70]}}}}
  ],
  "resolve": {"axis": {"x": "independent", "y": "independent"}}
},
{
  "width": 427, "height": 364,
  "title": {"text": "(b)Modified normalized logarithmic return r(t)", "dx": -9},
  "layer": [
    {"data": {"name": "ret"}, "mark": {"type": "line", "color": "#0000ff", "strokeWidth": 1.6},
     "encoding": {
       "x": {"field": "t", "type": "quantitative", "scale": {"domain": [0, 6000], "nice": false}, "axis": {"title": "Time", "format": "d", "values": [0,1000,2000,3000,4000,5000,6000]}},
       "y": {"field": "v", "type": "quantitative", "scale": {"domain": [-0.25, 0.2], "nice": false, "clamp": true}, "axis": {"title": null, "format": ".2~f", "values": [-0.25,-0.2,-0.15,-0.1,-0.05,0,0.05,0.1,0.15,0.2]}}}},
    {"data": {"name": "ret"}, "mark": {"type": "line", "opacity": 0},
     "encoding": {
       "x": {"field": "t", "type": "quantitative", "axis": {"orient": "top", "labels": false, "title": null, "values": [0,1000,2000,3000,4000,5000,6000]}},
       "y": {"field": "v", "type": "quantitative", "axis": {"orient": "right", "labels": false, "title": null, "values": [-0.25,-0.2,-0.15,-0.1,-0.05,0,0.05,0.1,0.15,0.2]}}}}
  ],
  "resolve": {"axis": {"x": "independent", "y": "independent"}}
},
{
  "width": 430, "height": 363,
  "title": {"text": "(c)Normalized mean logarithmic return r̄(t)", "dx": -10},
  "layer": [
    {"data": {"name": "mean"}, "mark": {"type": "line", "color": "#0000ff", "strokeWidth": 1},
     "encoding": {
       "x": {"field": "t", "type": "quantitative", "scale": {"domain": [0, 6000], "nice": false}, "axis": {"title": "Time", "format": "d", "values": [0,1000,2000,3000,4000,5000,6000]}},
       "y": {"field": "v", "type": "quantitative", "scale": {"domain": [-2, 2.5], "nice": false}, "axis": {"title": "x 10⁻³", "titleAngle": 0, "titleX": 0, "titleY": -6, "titleAlign": "left", "titleBaseline": "alphabetic", "format": ".1~f", "values": [-2,-1.5,-1,-0.5,0,0.5,1,1.5,2,2.5]}}}},
    {"data": {"name": "mean"}, "mark": {"type": "line", "opacity": 0},
     "encoding": {
       "x": {"field": "t", "type": "quantitative", "axis": {"orient": "top", "labels": false, "title": null, "values": [0,1000,2000,3000,4000,5000,6000]}},
       "y": {"field": "v", "type": "quantitative", "axis": {"orient": "right", "labels": false, "title": null, "values": [-2,-1.5,-1,-0.5,0,0.5,1,1.5,2,2.5]}}}}
  ],
  "resolve": {"axis": {"x": "independent", "y": "independent"}}
},
{
  "width": 427, "height": 363,
  "title": {"text": "(d)vol(CCE)(t) (–) and 20 days forecasting (- -)", "dx": -9},
  "layer": [
    {"data": {"name": "fc"}, "mark": {"type": "line", "color": "black", "strokeWidth": 1, "strokeDash": [6, 4]},
     "encoding": {
       "x": {"field": "t", "type": "quantitative", "scale": {"domain": [0, 6000], "nice": false}, "axis": {"title": "Time", "format": "d", "values": [0,1000,2000,3000,4000,5000,6000]}},
       "y": {"field": "v", "type": "quantitative", "scale": {"domain": [0, 0.035], "nice": false}, "axis": {"title": null, "format": ".3~f", "values": [0,0.005,0.01,0.015,0.02,0.025,0.03,0.035]}}}},
    {"data": {"name": "vol"}, "mark": {"type": "line", "color": "#0000ff", "strokeWidth": 1},
     "encoding": {
       "x": {"field": "t", "type": "quantitative", "axis": {"orient": "top", "labels": false, "title": null, "values": [0,1000,2000,3000,4000,5000,6000]}},
       "y": {"field": "v", "type": "quantitative", "axis": {"orient": "right", "labels": false, "title": null, "values": [0,0.005,0.01,0.015,0.02,0.025,0.03,0.035]}}}}
  ],
  "resolve": {"axis": {"x": "independent", "y": "independent"}}
}
]
}
